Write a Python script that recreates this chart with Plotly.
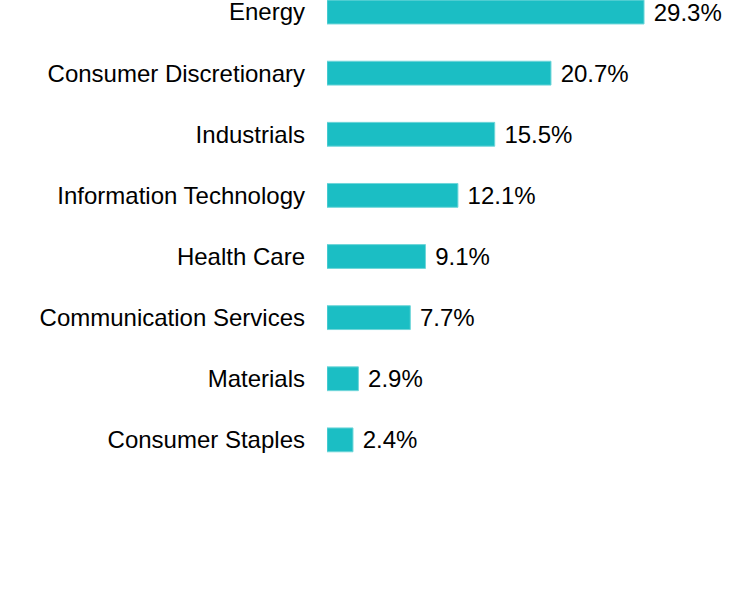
import plotly.graph_objects as go

categories = ["Energy", "Consumer Discretionary", "Industrials", "Information Technology",
              "Health Care", "Communication Services", "Materials", "Consumer Staples"]
values = [29.3, 20.7, 15.5, 12.1, 9.1, 7.7, 2.9, 2.4]
labels = [" %.1f%%" % v for v in values]

fig = go.Figure(go.Bar(
    x=values, y=categories, orientation="h",
    marker=dict(color="#1BBEC4", line=dict(color="#6FD6D9", width=1)),
    width=0.39,
    text=labels, textposition="outside", cliponaxis=False, constraintext="none",
    textfont=dict(family="Liberation Sans, Arial", size=24, color="#000000"),
    hoverinfo="skip",
))

fig.update_layout(
    width=732, height=600,
    margin=dict(l=327, r=0, t=0, b=0, autoexpand=False),
    paper_bgcolor="white", plot_bgcolor="white",
    showlegend=False,
    font=dict(family="Liberation Sans, Arial", size=24, color="#000000"),
    xaxis=dict(range=[0, 405 / 10.82], visible=False, fixedrange=True, automargin=False),
    yaxis=dict(type="category", categoryorder="array", categoryarray=categories,
               range=[9.62, -0.197], showgrid=False, zeroline=False, showline=False,
               ticks="", ticklabelstandoff=21, automargin=False, fixedrange=True,
               tickfont=dict(family="Liberation Sans, Arial", size=24, color="#000000")),
)

fig.write_html("out.html", config={"displayModeBar": False},
               post_script="document.body.style.margin='0';")
